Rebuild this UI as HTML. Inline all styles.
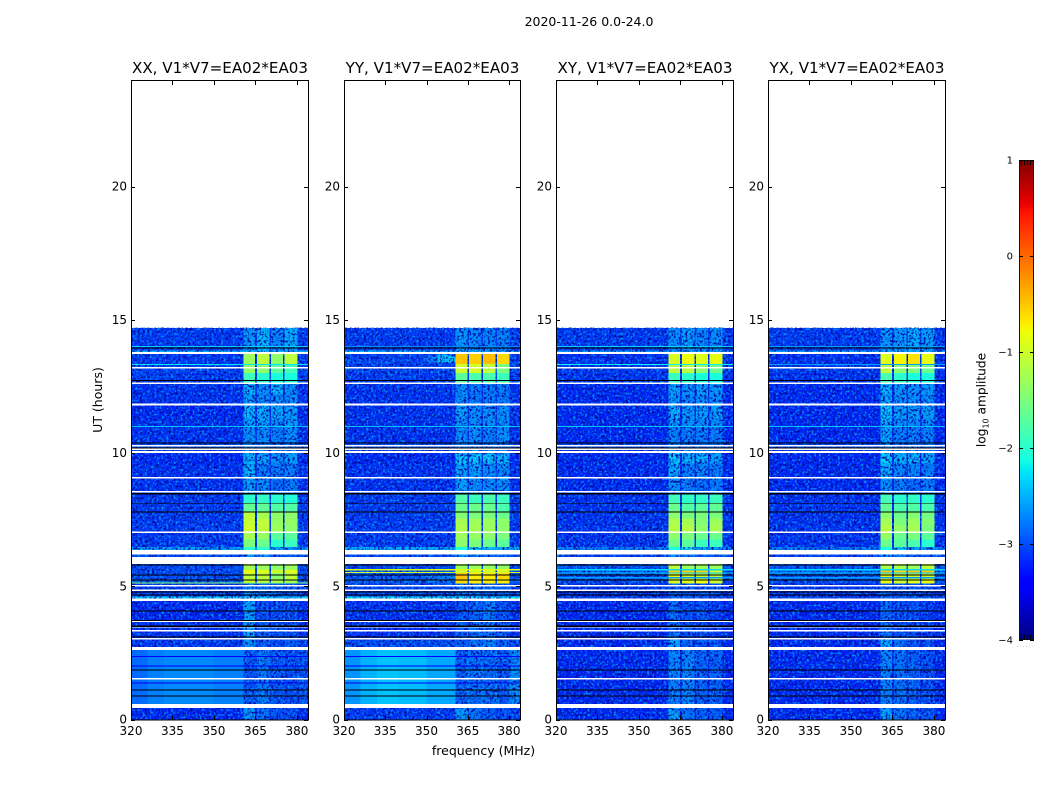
<!DOCTYPE html>
<html>
<head>
<meta charset="utf-8">
<title>2020-11-26 dynamic spectra</title>
<style>
html,body{margin:0;padding:0;background:#fff;}
svg{display:block;}
text{font-family:"DejaVu Sans","Liberation Sans",sans-serif;fill:#000;}
</style>
</head>
<body>
<svg id="chart" xmlns="http://www.w3.org/2000/svg" width="1050" height="800" viewBox="0 0 1050 800">
  <defs>
    <filter id="grainDark" x="0" y="0" width="1" height="1" color-interpolation-filters="sRGB">
      <feTurbulence type="fractalNoise" baseFrequency="0.42" numOctaves="2" seed="4"/>
      <feColorMatrix type="matrix" values="0 0 0 0 0  0 0 0 0 0.05  0 0 0 0 0.62  5 0 0 0 -2.35"/>
    </filter>
    <filter id="grainLight" x="0" y="0" width="1" height="1" color-interpolation-filters="sRGB">
      <feTurbulence type="fractalNoise" baseFrequency="0.42" numOctaves="2" seed="11"/>
      <feColorMatrix type="matrix" values="0 0 0 0 0  0 0 0 0 0.58  0 0 0 0 1  0 4 0 0 -2.05"/>
    </filter>
  </defs>
  <text x="589" y="26" font-size="12.5" text-anchor="middle">2020-11-26 0.0-24.0</text>
  <text x="483.5" y="755" font-size="12.5" text-anchor="middle">frequency (MHz)</text>
  <text x="0" y="0" font-size="12.5" text-anchor="middle" transform="translate(102 400) rotate(-90)">UT (hours)</text>
  <g id="panels"></g>
  <g id="colorbar"></g>
  <text x="0" y="0" font-size="12.2" text-anchor="middle" transform="translate(985.5 400) rotate(-90)">log<tspan font-size="8" dy="3">10</tspan><tspan dy="-3"> amplitude</tspan></text>
  <text x="1026" y="647" font-size="5" letter-spacing="1.5" text-anchor="middle" style="fill:#777">......</text>
</svg>
<script>
// ---------- axis data ----------
const panelTitles = ["XX, V1*V7=EA02*EA03", "YY, V1*V7=EA02*EA03", "XY, V1*V7=EA02*EA03", "YX, V1*V7=EA02*EA03"];
const freqTicks = [320, 335, 350, 365, 380];
const timeTicks = [0, 5, 10, 15, 20];
const colorbarTicks = [1, 0, -1, -2, -3, -4];
const colorbarTickLabels = ["1", "0", "\u22121", "\u22122", "\u22123", "\u22124"];

// ---------- heatmap structure ----------
const freqEdges = [320, 360.6, 364.9, 365.5, 370.0, 370.55, 375.0, 375.55, 380.2, 384];
const freqColumnLevel = [0, 1, 0, 2, 0, 3, 0, 4, 0];
const timeEdges = [0, 0.43, 2.6, 3.0, 3.7, 4.45, 4.62, 5.1, 5.28, 5.5, 5.62, 5.85, 6.35, 6.47, 6.75, 7.0, 7.3, 7.55, 7.8, 8.1, 8.45, 9.05, 9.6, 10.1, 10.4, 11.0, 11.3, 11.8, 12.2, 12.6, 13.0, 13.35, 13.72, 13.85, 14.7];

// each row: background, sub-band 1..4 (log10 amplitude), one row per time band
const xxLevels = [
[-3.2,-2.6,-2.8,-3.0,-3.0],[-2.95,-2.95,-2.75,-2.95,-3.0],[-3.1,-2.6,-2.9,-3.0,-2.9],[-3.15,-2.5,-2.9,-3.0,-3.0],
[-3.2,-2.55,-3.0,-3.0,-3.0],[-2.25,-2.2,-2.3,-2.4,-2.4],[-3.1,-2.7,-2.8,-2.9,-2.9],[-2.9,-1.0,-1.1,-1.2,-1.2],
[-3.0,-1.1,-1.1,-1.4,-1.1],[-3.0,-0.8,-0.9,-1.0,-0.9],[-3.0,-1.25,-1.3,-1.4,-1.3],[-3.0,-2.5,-2.6,-2.9,-2.9],
[-2.55,-2.0,-2.0,-2.5,-2.6],[-3.1,-1.5,-1.6,-2.0,-1.9],[-3.1,-1.25,-1.35,-1.7,-1.7],[-3.1,-1.0,-1.1,-1.3,-1.4],
[-3.1,-1.05,-1.1,-1.35,-1.35],[-3.1,-1.1,-1.25,-1.4,-1.4],[-3.1,-1.65,-1.65,-1.75,-1.75],[-3.1,-2.0,-1.95,-2.0,-2.05],
[-3.15,-2.55,-2.65,-2.85,-2.75],[-3.15,-2.45,-2.75,-2.75,-2.75],[-3.2,-2.45,-2.55,-2.65,-2.55],[-3.0,-2.7,-2.7,-2.8,-2.8],
[-3.15,-2.65,-2.65,-2.75,-2.65],[-3.15,-2.55,-2.55,-2.65,-2.55],[-3.2,-2.45,-2.5,-2.5,-2.55],[-3.15,-2.55,-2.65,-2.65,-2.65],
[-3.15,-2.45,-2.65,-2.45,-2.65],[-3.1,-1.9,-2.0,-2.1,-2.1],[-3.05,-1.35,-1.4,-1.7,-1.85],[-3.1,-1.3,-1.1,-1.4,-1.1],
[-2.45,-2.4,-2.4,-2.5,-2.5],[-3.1,-2.6,-2.4,-2.7,-2.5]];
const yyLevels = [
[-3.1,-2.6,-2.8,-2.9,-3.0],[-2.65,-2.9,-2.85,-2.85,-2.95],[-3.0,-2.9,-2.8,-2.7,-2.9],[-3.15,-2.9,-2.8,-2.8,-2.95],
[-3.15,-3.0,-2.9,-2.75,-3.0],[-2.2,-2.2,-2.25,-2.3,-2.3],[-3.05,-2.8,-2.8,-2.85,-2.9],[-2.9,-0.6,-0.7,-0.7,-0.7],
[-2.95,-0.5,-0.7,-0.7,-0.6],[-2.95,-1.0,-1.0,-1.0,-1.0],[-3.0,-1.3,-1.3,-1.35,-1.35],[-3.0,-2.6,-2.7,-2.8,-2.8],
[-2.5,-2.1,-2.2,-2.4,-2.5],[-3.1,-1.4,-1.5,-1.6,-1.7],[-3.1,-1.3,-1.35,-1.4,-1.5],[-3.1,-1.2,-1.25,-1.3,-1.4],
[-3.1,-1.25,-1.3,-1.3,-1.4],[-3.1,-1.45,-1.5,-1.5,-1.6],[-3.1,-1.6,-1.6,-1.6,-1.8],[-3.1,-1.75,-1.9,-1.8,-1.9],
[-3.15,-2.55,-2.65,-2.65,-2.65],[-3.15,-2.5,-2.55,-2.65,-2.65],[-3.2,-2.35,-2.35,-2.35,-2.45],[-3.0,-2.7,-2.7,-2.8,-2.8],
[-3.15,-2.65,-2.65,-2.75,-2.65],[-3.15,-2.65,-2.65,-2.65,-2.65],[-3.15,-2.55,-2.65,-2.65,-2.65],[-3.15,-2.65,-2.75,-2.75,-2.75],
[-3.15,-2.65,-2.75,-2.75,-2.75],[-3.1,-1.7,-1.8,-1.8,-1.9],[-3.05,-1.0,-0.95,-1.1,-1.5],[-3.05,-0.5,-0.55,-0.45,-0.6],
[-2.45,-2.4,-2.4,-2.5,-2.5],[-3.1,-2.6,-2.7,-2.7,-2.7]];
const xyLevels = [
[-3.2,-2.55,-2.8,-2.9,-2.95],[-3.2,-2.7,-2.7,-2.9,-2.9],[-3.2,-2.5,-2.9,-3.0,-3.0],[-3.2,-2.8,-3.0,-3.0,-3.1],
[-3.2,-2.85,-3.0,-3.0,-3.1],[-3.05,-2.8,-2.9,-2.9,-3.0],[-3.15,-2.9,-2.95,-3.0,-3.0],[-3.0,-0.9,-0.9,-0.8,-1.0],
[-3.0,-0.8,-1.0,-1.0,-1.1],[-2.9,-0.55,-0.55,-0.55,-0.9],[-2.95,-1.1,-1.3,-1.3,-1.3],[-3.05,-2.6,-2.7,-2.9,-2.9],
[-2.75,-2.1,-2.2,-2.5,-2.6],[-3.15,-1.6,-1.7,-1.9,-1.9],[-3.15,-1.4,-1.5,-1.6,-1.6],[-3.15,-1.15,-1.15,-1.4,-1.25],
[-3.15,-1.2,-1.25,-1.45,-1.3],[-3.15,-1.4,-1.5,-1.5,-1.5],[-3.15,-1.6,-1.75,-1.7,-1.65],[-3.15,-1.85,-1.95,-1.95,-1.9],
[-3.2,-2.65,-2.75,-2.85,-2.75],[-3.2,-2.5,-2.75,-2.7,-2.75],[-3.2,-2.3,-2.45,-2.45,-2.55],[-3.05,-2.6,-2.8,-2.8,-2.8],
[-3.2,-2.7,-2.75,-2.75,-2.75],[-3.2,-2.6,-2.65,-2.65,-2.65],[-3.2,-2.45,-2.6,-2.55,-2.55],[-3.2,-2.55,-2.7,-2.65,-2.65],
[-3.2,-2.55,-2.65,-2.55,-2.6],[-3.15,-1.9,-2.0,-2.1,-2.1],[-3.1,-1.1,-1.1,-1.4,-1.6],[-3.15,-0.95,-0.8,-0.9,-0.85],
[-2.55,-2.5,-2.5,-2.5,-2.5],[-3.1,-2.65,-2.55,-2.7,-2.65]];
const yxLevels = [
[-3.2,-2.55,-2.8,-2.9,-2.95],[-3.2,-2.7,-2.8,-2.9,-3.0],[-3.2,-2.5,-2.8,-3.0,-3.0],[-3.2,-2.8,-3.0,-3.0,-3.1],
[-3.2,-2.85,-3.0,-3.0,-3.1],[-3.05,-2.8,-2.9,-2.9,-3.0],[-3.15,-2.9,-2.95,-3.0,-3.0],[-3.0,-0.8,-1.0,-0.9,-0.8],
[-3.0,-0.8,-1.0,-1.0,-1.0],[-2.9,-0.5,-0.6,-0.5,-0.5],[-2.95,-1.2,-1.2,-1.3,-1.1],[-3.05,-2.6,-2.7,-2.9,-2.9],
[-2.75,-2.1,-2.2,-2.5,-2.6],[-3.15,-1.6,-1.7,-1.8,-2.0],[-3.15,-1.35,-1.6,-1.5,-1.7],[-3.15,-1.15,-1.35,-1.25,-1.5],
[-3.15,-1.25,-1.5,-1.3,-1.45],[-3.15,-1.4,-1.6,-1.45,-1.55],[-3.15,-1.65,-1.8,-1.75,-1.8],[-3.15,-1.85,-2.0,-1.95,-2.0],
[-3.2,-2.65,-2.75,-2.85,-2.75],[-3.2,-2.45,-2.7,-2.7,-2.75],[-3.2,-2.3,-2.45,-2.45,-2.5],[-3.05,-2.6,-2.8,-2.8,-2.8],
[-3.2,-2.55,-2.75,-2.75,-2.75],[-3.2,-2.5,-2.65,-2.65,-2.65],[-3.2,-2.35,-2.55,-2.55,-2.55],[-3.2,-2.5,-2.65,-2.65,-2.65],
[-3.2,-2.45,-2.6,-2.6,-2.6],[-3.15,-1.8,-2.0,-2.1,-2.1],[-3.1,-1.1,-1.4,-1.5,-1.6],[-3.15,-0.9,-0.75,-0.65,-0.85],
[-2.55,-2.5,-2.5,-2.5,-2.5],[-3.1,-2.6,-2.6,-2.5,-2.55]];
const panelLevels = [xxLevels, yyLevels, xyLevels, yxLevels];

// brighter, smoother background across frequency during the 0.43-2.6 h quiet band
const quietFreqEdges = [320, 326, 332, 340, 350, 360.6];
const xxQuietBg = [-2.85, -2.75, -2.7, -2.7, -2.75];
const yyQuietBg = [-2.65, -2.5, -2.42, -2.45, -2.55];
const panelQuietBg = [xxQuietBg, yyQuietBg, null, null];
const quietTimeRange = [0.43, 2.6];

// thin horizontal streaks: [hour, log10 amplitude]
const xxStreaks = [[14.0,-2.35],[13.32,-2.25],[11.0,-2.4],[5.12,-1.4],[1.37,-3.5],[2.0,-3.5],[2.37,-3.4]];
const yyStreaks = [[14.0,-2.7],[11.0,-2.4],[5.62,-0.9],[5.52,-1.0],[1.37,-3.5],[2.0,-3.5],[2.37,-3.4]];
const xyStreaks = [[14.0,-2.35],[13.32,-2.2],[11.0,-2.4],[5.62,-2.3],[5.5,-2.4],[5.32,-2.6]];
const yxStreaks = [[14.0,-2.6],[13.32,-2.6],[11.0,-2.4],[5.62,-2.3],[5.5,-2.4],[5.32,-2.6]];
const panelStreaks = [xxStreaks, yyStreaks, xyStreaks, yxStreaks];

// glow just below the first sub-band in YY: [f0, f1, t0, t1, level]
const yyGlow = [[350,354,13.4,13.65,-2.75],[354,360.6,13.4,13.7,-2.35],[350,360.6,5.15,5.4,-2.75]];
const panelGlow = [[], yyGlow, [], []];

// flagged time ranges [t0, t1]
const blankRanges = [[0.43,0.58],[1.5,1.55],[2.6,2.72],[3.0,3.05],[3.3,3.36],[3.45,3.5],[3.65,3.7],[4.45,4.55],[4.82,4.87],[5.0,5.04],[5.83,6.1],[6.2,6.36],[7.0,7.05],[8.52,8.57],[9.04,9.1],[10.0,10.07],[10.12,10.17],[10.25,10.3],[11.79,11.85],[12.6,12.65],[13.18,13.23],[13.72,13.8]];
const zeroRanges = [[0.87,0.91],[1.08,1.12],[1.84,1.88],[3.08,3.12],[3.48,3.52],[3.7,3.74],[4.05,4.09],[4.65,4.69],[4.76,4.8],[5.22,5.26],[5.4,5.44],[5.78,5.82],[7.76,7.8],[8.1,8.13],[8.45,8.5],[10.17,10.2],[10.35,10.39],[12.7,12.74],[13.92,13.96]];

// ---------- layout ----------
const panelLefts = [131, 344, 556, 768];
const panelWidths = [177, 176, 177, 177];
const plotTop = 80;
const plotBottom = 719.5;
const freqDomain = [320, 384];
const timeDomain = [0, 24];
const SVGNS = "http://www.w3.org/2000/svg";
const smoothThreshold = -2.15;

function xScale(panel, f) {
  return panelLefts[panel] + (f - freqDomain[0]) / (freqDomain[1] - freqDomain[0]) * panelWidths[panel];
}
function yScale(t) {
  return plotBottom - (t - timeDomain[0]) / (timeDomain[1] - timeDomain[0]) * (plotBottom - plotTop);
}
function cbScale(v) {
  return 640 - (v + 4) * 96;
}
function lerpStops(stops, v) {
  for (let i = 1; i < stops.length; i++) {
    if (v <= stops[i][0]) {
      const a = stops[i - 1], b = stops[i];
      return a[1] + (b[1] - a[1]) * (v - a[0]) / (b[0] - a[0]);
    }
  }
  return stops[stops.length - 1][1];
}
const jetRed = [[0,0],[0.35,0],[0.66,1],[0.89,1],[1,0.5]];
const jetGreen = [[0,0],[0.125,0],[0.375,1],[0.64,1],[0.91,0],[1,0]];
const jetBlue = [[0,0.5],[0.11,1],[0.34,1],[0.65,0],[1,0]];
function jetColor(level) {
  const n = Math.max(0, Math.min(1, (level + 4) / 5));
  const r = Math.round(lerpStops(jetRed, n) * 255);
  const g = Math.round(lerpStops(jetGreen, n) * 255);
  const b = Math.round(lerpStops(jetBlue, n) * 255);
  return "rgb(" + r + "," + g + "," + b + ")";
}
function makeEl(tag, attrs, parent) {
  const el = document.createElementNS(SVGNS, tag);
  for (const k in attrs) el.setAttribute(k, attrs[k]);
  parent.appendChild(el);
  return el;
}
function cellBetween(g, panel, f0, f1, t0, t1, fill) {
  const x0 = xScale(panel, f0), x1 = xScale(panel, f1);
  const y0 = yScale(t1), y1 = yScale(t0);
  return makeEl("rect", {x: x0, y: y0, width: x1 - x0, height: y1 - y0, fill: fill, "shape-rendering": "crispEdges"}, g);
}

const panelsRoot = document.getElementById("panels");
const panelKeys = ["xx", "yy", "xy", "yx"];

panelTitles.forEach(function (title, p) {
  const g = makeEl("g", {}, panelsRoot);
  
  
  const panelWidth = panelWidths[p];

  // heatmap cells
  const levels = panelLevels[p];
  levels.forEach(function (row, r) {
    freqColumnLevel.forEach(function (key, c) {
      const cell = cellBetween(g, p, freqEdges[c], freqEdges[c + 1], timeEdges[r], timeEdges[r + 1], jetColor(row[key]));
      
      
    });
  });

  // glow patches
  panelGlow[p].forEach(function (d) {
    const gl = cellBetween(g, p, d[0], d[1], d[2], d[3], jetColor(d[4]));
    
    
  });

  // noise texture, decoration only
  const gx = panelLefts[p], gy = yScale(14.7), gh = plotBottom - gy;
  const dark = makeEl("rect", {x: gx, y: gy, width: panelWidth, height: gh, fill: "#000", filter: "url(#grainDark)"}, g);
  
  
  const light = makeEl("rect", {x: gx, y: gy, width: panelWidth, height: gh, fill: "#000", filter: "url(#grainLight)"}, g);
  
  

  // quiet-band background profile, smooth so drawn above the grain
  const quiet = panelQuietBg[p];
  if (quiet) {
    quiet.forEach(function (v, i) {
      const q = cellBetween(g, p, quietFreqEdges[i], quietFreqEdges[i + 1], quietTimeRange[0], quietTimeRange[1], jetColor(v));
      
      
    });
  }

  // bright sub-band cells stay smooth: redraw them above the grain
  levels.forEach(function (row, r) {
    freqColumnLevel.forEach(function (key, c) {
      if (key > 0 && row[key] > smoothThreshold) {
        const cell = cellBetween(g, p, freqEdges[c], freqEdges[c + 1], timeEdges[r], timeEdges[r + 1], jetColor(row[key]));
        
        
      }
    });
  });

  // streaks
  panelStreaks[p].forEach(function (s) {
    const st = cellBetween(g, p, freqDomain[0], freqDomain[1], s[0] - 0.02, s[0] + 0.02, jetColor(s[1]));
    
    
  });

  // flagged rows
  blankRanges.forEach(function (b) {
    const w = cellBetween(g, p, freqDomain[0], freqDomain[1], b[0], b[1], "#fff");
    
    
  });
  zeroRanges.forEach(function (b) {
    const k = cellBetween(g, p, freqDomain[0], freqDomain[1], b[0], b[1], "#000");
    
    
  });

  // frame
  const frame = makeEl("rect", {x: gx + 0.5, y: plotTop + 0.5, width: panelWidth, height: plotBottom - plotTop, fill: "none", stroke: "#000", "stroke-width": 1, "shape-rendering": "crispEdges"}, g);
  
  

  // x ticks
  freqTicks.forEach(function (f) {
    const x = Math.round(xScale(p, f)) + 0.5;
    const tb = makeEl("line", {x1: x, x2: x, y1: plotBottom, y2: plotBottom - 4, stroke: "#000", "stroke-width": 1}, g);
    
    
    const tt = makeEl("line", {x1: x, x2: x, y1: plotTop + 1, y2: plotTop + 5, stroke: "#000", "stroke-width": 1}, g);
    
    
    const lab = makeEl("text", {x: xScale(p, f), y: 735, "font-size": 12, "text-anchor": "middle"}, g);
    
    
    lab.textContent = String(f);
  });

  // y ticks
  timeTicks.forEach(function (t) {
    const y = Math.round(yScale(t)) + 0.5;
    const tl = makeEl("line", {x1: gx, x2: gx + 4, y1: y, y2: y, stroke: "#000", "stroke-width": 1}, g);
    
    
    const tr = makeEl("line", {x1: gx + panelWidth, x2: gx + panelWidth - 4, y1: y, y2: y, stroke: "#000", "stroke-width": 1}, g);
    
    
    const lab = makeEl("text", {x: gx - 4, y: yScale(t) + 4, "font-size": 12, "text-anchor": "end"}, g);
    
    
    lab.textContent = String(t);
  });

  // title
  const ttl = makeEl("text", {x: gx + panelWidth / 2 + 0.5, y: 73, "font-size": 15.1, "text-anchor": "middle"}, g);
  
  
  ttl.textContent = title;
});

// ---------- colorbar ----------
const cbRoot = document.getElementById("colorbar");
const cbLeft = 1019, cbRight = 1034;
for (let py = 160; py < 640; py++) {
  const level = -4 + (640 - py - 0.5) / 96;
  const strip = makeEl("rect", {x: cbLeft, y: py, width: cbRight - cbLeft, height: 1.2, fill: jetColor(level), "shape-rendering": "crispEdges"}, cbRoot);
  
  
}
const cbFrame = makeEl("rect", {x: cbLeft + 0.5, y: 160.5, width: cbRight - cbLeft - 1, height: 479, fill: "none", stroke: "#111", "stroke-width": 1, "shape-rendering": "crispEdges"}, cbRoot);


colorbarTicks.forEach(function (v, i) {
  const y = Math.round(cbScale(v)) + 0.5;
  const a = makeEl("line", {x1: cbLeft, x2: cbLeft + 4, y1: y, y2: y, stroke: "#000", "stroke-width": 1}, cbRoot);
  
  
  const b = makeEl("line", {x1: cbRight, x2: cbRight - 4, y1: y, y2: y, stroke: "#000", "stroke-width": 1}, cbRoot);
  
  
  const lab = makeEl("text", {x: 1013, y: cbScale(v) + 3.5, "font-size": 10, "text-anchor": "end"}, cbRoot);
  
  
  lab.textContent = colorbarTickLabels[i];
});
[1021.5, 1024.5, 1027.5, 1030.5].forEach(function (x) {
  const t1 = makeEl("line", {x1: x, x2: x, y1: 160, y2: 165, stroke: "#000", "stroke-width": 1}, cbRoot);
  
  
  const t2 = makeEl("line", {x1: x, x2: x, y1: 640, y2: 635, stroke: "#000", "stroke-width": 1}, cbRoot);
  
  
});
</script>
</body>
</html>
